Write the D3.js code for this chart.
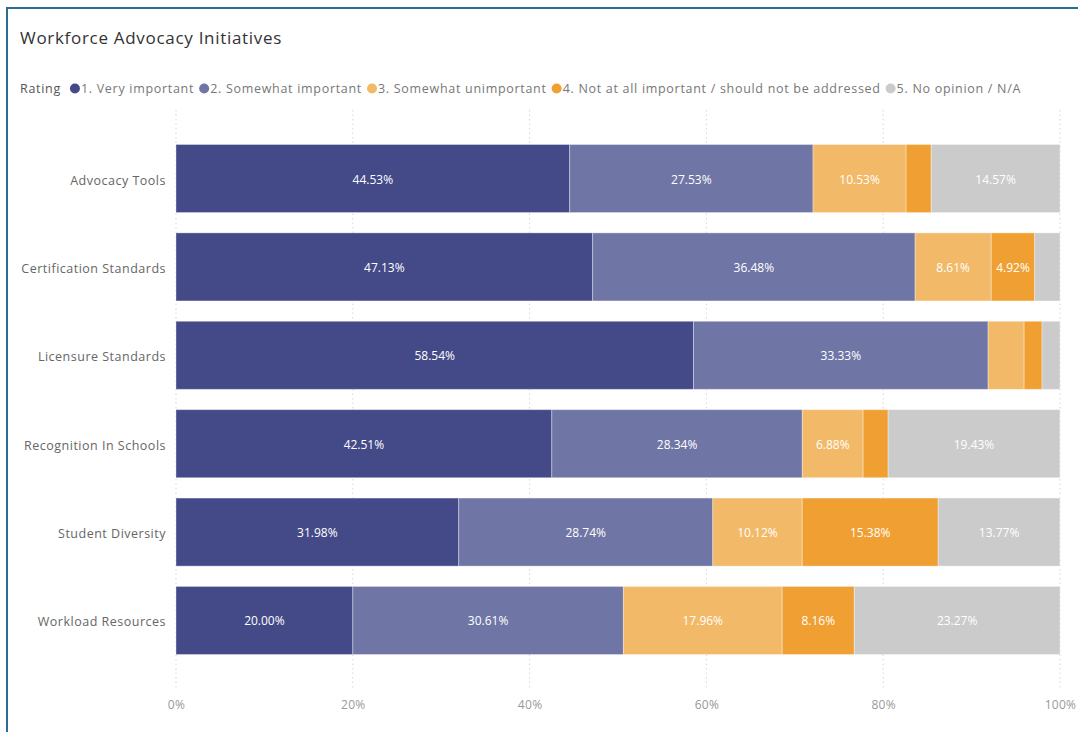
<!DOCTYPE html>
<meta charset="utf-8">
<script src="https://d3js.org/d3.v7.min.js"></script>
<style>
  body { margin: 0; background: #fff; font-family: "Open Sans", "Noto Sans", sans-serif; }
</style>
<div id="chart"></div>
<script>
// values (percent of respondents per rating)
var categories = ["Advocacy Tools", "Certification Standards", "Licensure Standards",
                  "Recognition In Schools", "Student Diversity", "Workload Resources"];
var ratings = ["1. Very important", "2. Somewhat important", "3. Somewhat unimportant",
               "4. Not at all important / should not be addressed", "5. No opinion / N/A"];
var veryImportant     = [44.53, 47.13, 58.54, 42.51, 31.98, 20.00];
var somewhatImportant = [27.53, 36.48, 33.33, 28.34, 28.74, 30.61];
var somewhatUnimp     = [10.53,  8.61,  4.07,  6.88, 10.12, 17.96];
var notImportant      = [ 2.84,  4.92,  2.03,  2.83, 15.38,  8.16];
var noOpinion         = [14.57,  2.86,  2.03, 19.43, 13.77, 23.27];
var tickValues = [0, 20, 40, 60, 80, 100];

var colors = ["#434a87", "#6f76a5", "#f2b968", "#f0a033", "#cbcbcb"];
var series = [veryImportant, somewhatImportant, somewhatUnimp, notImportant, noOpinion];

var W = 1078, H = 732;
var svg = d3.select("#chart").append("svg").attr("width", W).attr("height", H);

// card frame (runs off the right and bottom edges)
svg.append("rect")
  .attr("x", 7).attr("y", 8).attr("width", W + 20).attr("height", H + 20)
  .attr("fill", "none").attr("stroke", "#2a6d94").attr("stroke-width", 2);

svg.append("text")
  .attr("x", 20).attr("y", 44)
  .attr("font-size", 17).attr("fill", "#333").attr("letter-spacing", 0.7)
  .text("Workforce Advocacy Initiatives");

// legend
var leg = svg.append("g").attr("transform", "translate(20,93)")
  .attr("font-size", 12.5).attr("letter-spacing", 0.7);
var lx = 0;
var t0 = leg.append("text").attr("x", 0).attr("y", 0).attr("fill", "#555").text("Rating");
lx += t0.node().getComputedTextLength() + 14;
ratings.forEach(function(r, i) {
  leg.append("circle").attr("cx", lx).attr("cy", -4.5).attr("r", 5).attr("fill", colors[i]);
  var t = leg.append("text").attr("x", lx + 6).attr("y", 0).attr("fill", "#777").text(r);
  lx += 6 + t.node().getComputedTextLength() + 10;
});

var x = d3.scaleLinear().domain([0, 100]).range([176, 1060]);
var y = d3.scaleBand().domain(categories).range([133, 666]).paddingInner(0.23).paddingOuter(0.13);

// dotted grid
svg.append("g").selectAll("line").data(tickValues).join("line")
  .attr("x1", d => x(d)).attr("x2", d => x(d))
  .attr("y1", 110).attr("y2", 690)
  .attr("stroke", "#d6d6d6").attr("stroke-dasharray", "1.5,3");

// x axis labels
var xAxis = svg.append("g").attr("transform", "translate(0,692)")
  .call(d3.axisBottom(x).tickValues(tickValues).tickFormat(d => d + "%").tickSize(0).tickPadding(8));
xAxis.select(".domain").remove();
xAxis.selectAll("text").attr("font-size", 12).attr("fill", "#999")
  .attr("font-family", "Open Sans, sans-serif").attr("letter-spacing", 0.3);

// y axis labels
var yAxis = svg.append("g").attr("transform", "translate(166,2)")
  .call(d3.axisLeft(y).tickSize(0).tickPadding(0));
yAxis.select(".domain").remove();
yAxis.selectAll("text").attr("font-size", 12.5).attr("fill", "#666")
  .attr("font-family", "Open Sans, sans-serif").attr("letter-spacing", 0.5);

// stacked bars
var rows = categories.map(function(c, i) {
  var row = { cat: c };
  series.forEach(function(s, k) { row["s" + k] = s[i]; });
  return row;
});
var stack = d3.stack().keys(series.map((s, k) => "s" + k))(rows);

stack.forEach(function(layer, k) {
  var g = svg.append("g");
  g.selectAll("rect").data(layer).join("rect")
    .attr("x", d => x(d[0]))
    .attr("y", d => y(d.data.cat))
    .attr("width", d => x(d[1]) - x(d[0]))
    .attr("height", y.bandwidth())
    .attr("fill", colors[k])
    .attr("stroke", "rgba(255,255,255,0.35)").attr("stroke-width", 1);
  g.selectAll("text").data(layer.filter(d => d[1] - d[0] >= 4.5)).join("text")
    .attr("x", d => x((d[0] + d[1]) / 2))
    .attr("y", d => y(d.data.cat) + y.bandwidth() / 2 + 5)
    .attr("text-anchor", "middle")
    .attr("font-size", 12).attr("fill", "#fff")
    .text(d => (d[1] - d[0]).toFixed(2) + "%");
});
</script>
